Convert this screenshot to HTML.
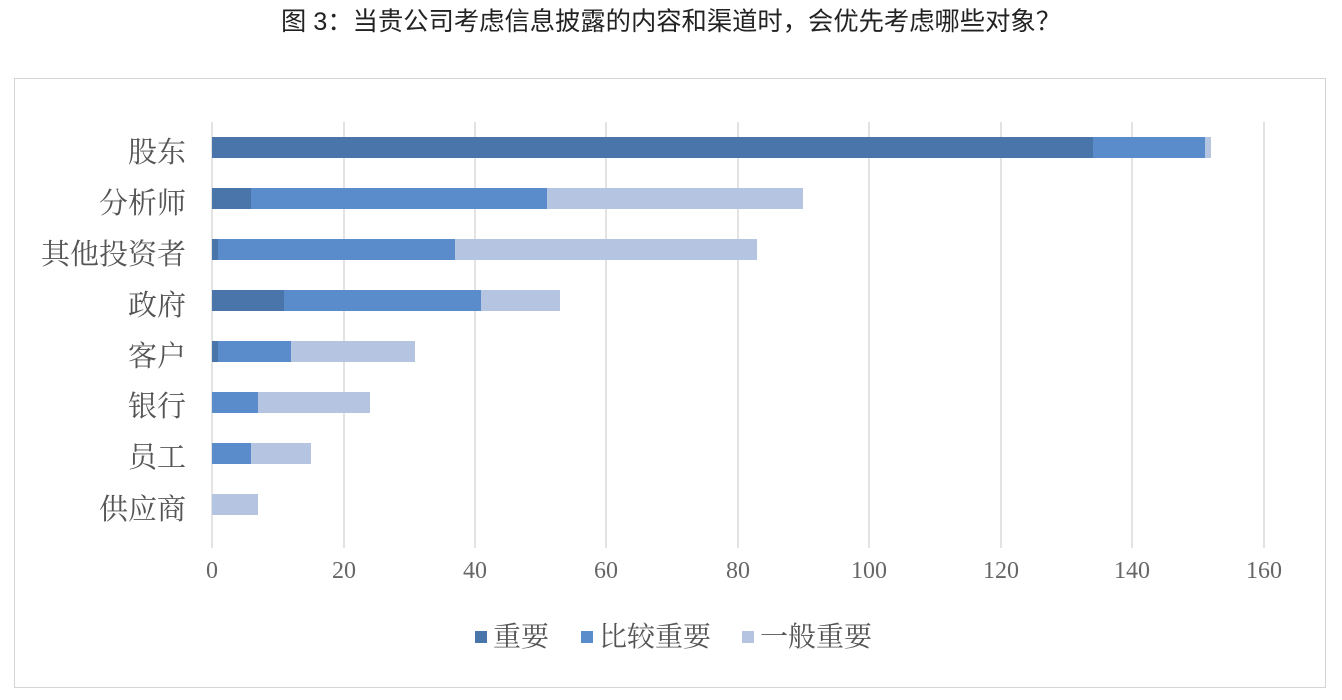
<!DOCTYPE html>
<html><head><meta charset="utf-8"><style>
body{margin:0;width:1342px;height:700px;background:#fff;position:relative;overflow:hidden;font-family:"Liberation Serif","Noto Serif CJK SC",serif}
.a{position:absolute}
.t{font-family:"Liberation Sans","Noto Sans CJK SC",sans-serif;font-size:25.3px;color:#222;left:0;width:1342px;text-align:center;top:6px;line-height:32px}
.g{position:absolute;top:122px;height:426px;width:2px;background:#e3e3e3}
.b{position:absolute;height:21px}
.d{background:#4a75aa}.m{background:#5a8bcb}.l{background:#b5c4e1}
.lab{position:absolute;right:1156px;font-size:29px;color:#555;line-height:34px;white-space:nowrap}
.tk{position:absolute;top:558px;font-size:24px;color:#666;width:60px;text-align:center}
.lg{position:absolute;top:620px;font-size:28px;color:#555;line-height:36px}
</style></head><body>
<div class="a t">图 3：当贵公司考虑信息披露的内容和渠道时，会优先考虑哪些对象？</div>
<div class="a" style="left:14px;top:78px;width:1310px;height:608px;border:1px solid #d4d4d4"></div>
<div class="g" style="left:211px"></div><div class="g" style="left:343px"></div><div class="g" style="left:474px"></div><div class="g" style="left:605px"></div><div class="g" style="left:737px"></div><div class="g" style="left:868px"></div><div class="g" style="left:1000px"></div><div class="g" style="left:1131px"></div><div class="g" style="left:1263px"></div>
<div class="lab" style="top:136px">股东</div>
<div class="lab" style="top:187px">分析师</div>
<div class="lab" style="top:238px">其他投资者</div>
<div class="lab" style="top:289px">政府</div>
<div class="lab" style="top:340px">客户</div>
<div class="lab" style="top:390px">银行</div>
<div class="lab" style="top:441px">员工</div>
<div class="lab" style="top:493px">供应商</div>
<div class="b d" style="top:137px;left:212px;width:881px"></div><div class="b m" style="top:137px;left:1093px;width:112px"></div><div class="b l" style="top:137px;left:1205px;width:6px"></div>
<div class="b d" style="top:188px;left:212px;width:39px"></div><div class="b m" style="top:188px;left:251px;width:296px"></div><div class="b l" style="top:188px;left:547px;width:256px"></div>
<div class="b d" style="top:239px;left:212px;width:6px"></div><div class="b m" style="top:239px;left:218px;width:237px"></div><div class="b l" style="top:239px;left:455px;width:302px"></div>
<div class="b d" style="top:290px;left:212px;width:72px"></div><div class="b m" style="top:290px;left:284px;width:197px"></div><div class="b l" style="top:290px;left:481px;width:79px"></div>
<div class="b d" style="top:341px;left:212px;width:6px"></div><div class="b m" style="top:341px;left:218px;width:73px"></div><div class="b l" style="top:341px;left:291px;width:124px"></div>
<div class="b m" style="top:392px;left:212px;width:46px"></div><div class="b l" style="top:392px;left:258px;width:112px"></div>
<div class="b m" style="top:443px;left:212px;width:39px"></div><div class="b l" style="top:443px;left:251px;width:60px"></div>
<div class="b l" style="top:494px;left:212px;width:46px"></div>
<div class="tk" style="left:182px">0</div><div class="tk" style="left:314px">20</div><div class="tk" style="left:445px">40</div><div class="tk" style="left:576px">60</div><div class="tk" style="left:708px">80</div><div class="tk" style="left:839px">100</div><div class="tk" style="left:971px">120</div><div class="tk" style="left:1102px">140</div><div class="tk" style="left:1234px">160</div>
<div class="a" style="top:631px;left:475px;width:12px;height:12px;background:#4a75aa"></div>
<div class="lg" style="left:493px">重要</div>
<div class="a" style="top:631px;left:581px;width:12px;height:12px;background:#5a8bcb"></div>
<div class="lg" style="left:599px">比较重要</div>
<div class="a" style="top:631px;left:742px;width:12px;height:12px;background:#b5c4e1"></div>
<div class="lg" style="left:760px">一般重要</div>
</body></html>
